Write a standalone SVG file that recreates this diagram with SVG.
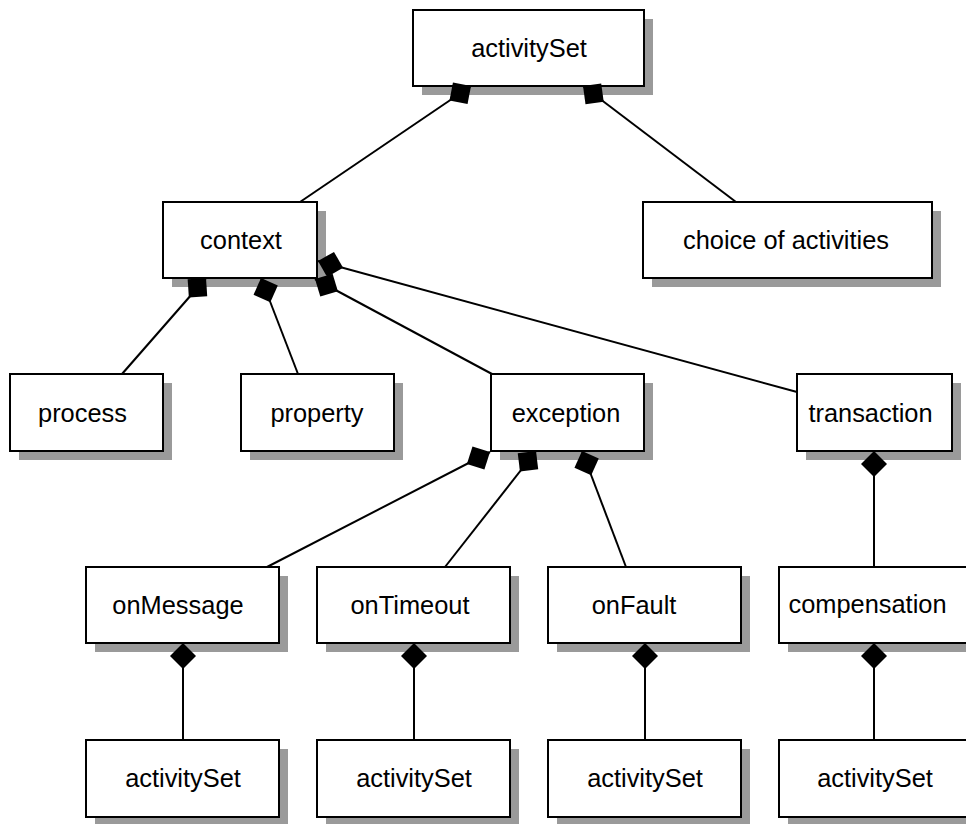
<svg xmlns="http://www.w3.org/2000/svg" width="966" height="824" viewBox="0 0 966 824">
  <style>
    .shadow { fill: #9a9a9a; stroke: none; }
    .box { fill: #ffffff; stroke: #000000; stroke-width: 2; }
    .label { font-family: "Liberation Sans", Arial, sans-serif; font-size: 25.4px; fill: #000000; text-anchor: middle; }
    .link { fill: none; stroke: #000000; stroke-width: 2; marker-start: url(#composition); }
  </style>
  <defs>
    <!-- filled diamond: composition end, tip at the owning box -->
    <marker id="composition" markerUnits="userSpaceOnUse" orient="auto" refX="0" refY="0" markerWidth="30" markerHeight="30" overflow="visible">
      <path d="M0,0 L13,-13 L26,0 L13,13 Z" fill="#000000" stroke="none"/>
    </marker>
  </defs>

  <rect width="966" height="824" fill="#ffffff"/>

  <!-- level 1 -->
  <g id="root-activitySet">
    <rect class="shadow" x="422" y="19" width="231" height="76"/>
    <rect class="box" x="413" y="10" width="231" height="76"/>
    <text class="label" x="529" y="57">activitySet</text>
  </g>

  <!-- level 2 -->
  <g id="context">
    <rect class="shadow" x="172" y="211" width="154" height="76"/>
    <rect class="box" x="163" y="202" width="154" height="76"/>
    <text class="label" x="241" y="249">context</text>
  </g>
  <g id="choice-of-activities">
    <rect class="shadow" x="652" y="211" width="289" height="76"/>
    <rect class="box" x="643" y="202" width="289" height="76"/>
    <text class="label" x="786" y="249">choice of activities</text>
  </g>

  <!-- level 3 -->
  <g id="process">
    <rect class="shadow" x="19" y="383" width="153" height="77"/>
    <rect class="box" x="10" y="374" width="153" height="77"/>
    <text class="label" x="82.5" y="422">process</text>
  </g>
  <g id="property">
    <rect class="shadow" x="250" y="383" width="153" height="77"/>
    <rect class="box" x="241" y="374" width="153" height="77"/>
    <text class="label" x="317" y="422">property</text>
  </g>
  <g id="exception">
    <rect class="shadow" x="500" y="383" width="153" height="77"/>
    <rect class="box" x="491" y="374" width="153" height="77"/>
    <text class="label" x="566" y="422">exception</text>
  </g>
  <g id="transaction">
    <rect class="shadow" x="806" y="383" width="155" height="77"/>
    <rect class="box" x="797" y="374" width="155" height="77"/>
    <text class="label" x="870.5" y="422">transaction</text>
  </g>

  <!-- level 4 -->
  <g id="onMessage">
    <rect class="shadow" x="95" y="576" width="193" height="76"/>
    <rect class="box" x="86" y="567" width="193" height="76"/>
    <text class="label" x="178" y="614">onMessage</text>
  </g>
  <g id="onTimeout">
    <rect class="shadow" x="326" y="576" width="193" height="76"/>
    <rect class="box" x="317" y="567" width="193" height="76"/>
    <text class="label" x="410" y="614">onTimeout</text>
  </g>
  <g id="onFault">
    <rect class="shadow" x="557" y="576" width="193" height="76"/>
    <rect class="box" x="548" y="567" width="193" height="76"/>
    <text class="label" x="634" y="614">onFault</text>
  </g>
  <g id="compensation">
    <rect class="shadow" x="788" y="576" width="193" height="76"/>
    <rect class="box" x="779" y="567" width="193" height="76"/>
    <text class="label" x="867.5" y="613">compensation</text>
  </g>

  <!-- level 5 -->
  <g id="onMessage-activitySet">
    <rect class="shadow" x="95" y="749" width="193" height="77"/>
    <rect class="box" x="86" y="740" width="193" height="77"/>
    <text class="label" x="183" y="787">activitySet</text>
  </g>
  <g id="onTimeout-activitySet">
    <rect class="shadow" x="326" y="749" width="193" height="77"/>
    <rect class="box" x="317" y="740" width="193" height="77"/>
    <text class="label" x="414" y="787">activitySet</text>
  </g>
  <g id="onFault-activitySet">
    <rect class="shadow" x="557" y="749" width="193" height="77"/>
    <rect class="box" x="548" y="740" width="193" height="77"/>
    <text class="label" x="645" y="787">activitySet</text>
  </g>
  <g id="compensation-activitySet">
    <rect class="shadow" x="788" y="749" width="193" height="77"/>
    <rect class="box" x="779" y="740" width="193" height="77"/>
    <text class="label" x="875" y="787">activitySet</text>
  </g>

  <!-- composition links, drawn from owner to part -->
  <g id="connectors">
    <path class="link" d="M471,86 L300,202"/>
    <path class="link" d="M583,86 L736,202"/>
    <path class="link" d="M206,278 L122,374"/>
    <path class="link" d="M261,278 L298,374"/>
    <path class="link" d="M315,279 L492,374"/>
    <path class="link" d="M318,261 L797,392"/>
    <path class="link" d="M490,452 L267,567"/>
    <path class="link" d="M536,451 L445,567"/>
    <path class="link" d="M582,451 L626,567"/>
    <path class="link" d="M874,451 L874,567"/>
    <path class="link" d="M183,643 L183,740"/>
    <path class="link" d="M414,643 L414,740"/>
    <path class="link" d="M645,643 L645,740"/>
    <path class="link" d="M874,643 L874,740"/>
  </g>
</svg>
